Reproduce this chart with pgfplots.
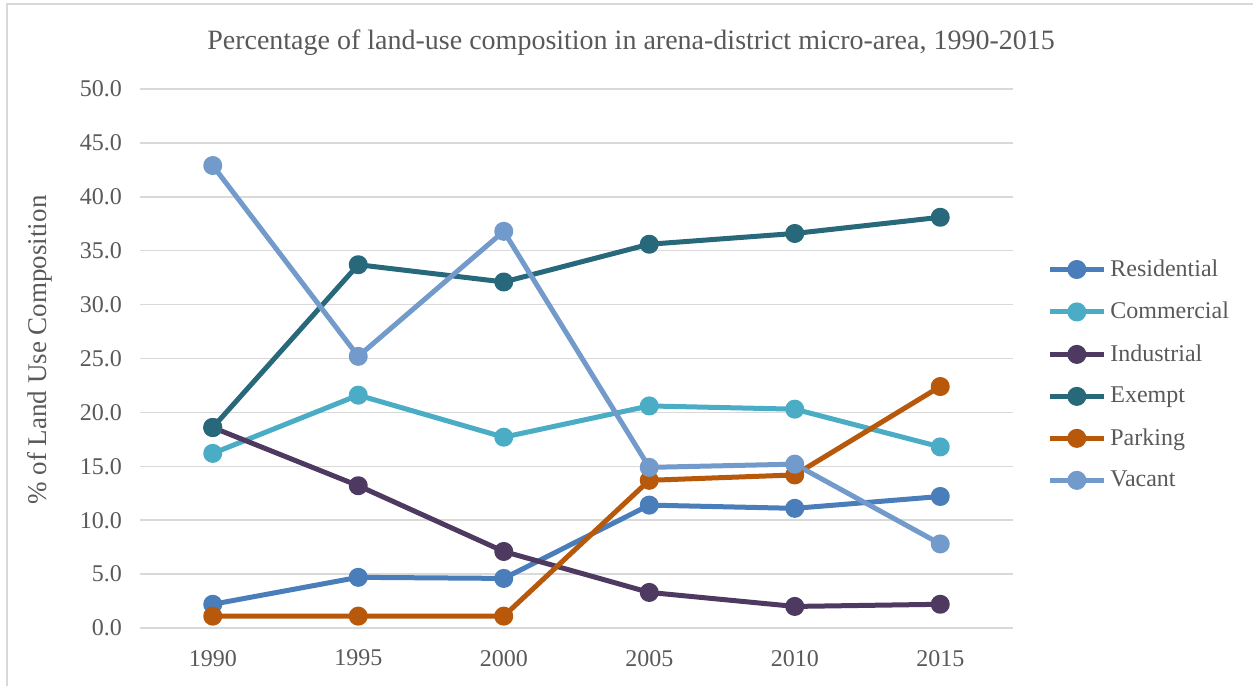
\documentclass[border=0pt]{standalone}
\usepackage{fontspec}
\setmainfont{Liberation Serif}
\usepackage{pgfplots}
\pgfplotsset{compat=1.18}

\definecolor{txtgray}{HTML}{595959}
\definecolor{gridgray}{HTML}{D9D9D9}
\definecolor{framegray}{HTML}{D9D9D9}
\definecolor{cRes}{HTML}{4A7EBB}
\definecolor{cCom}{HTML}{4BACC6}
\definecolor{cInd}{HTML}{4E3A60}
\definecolor{cExe}{HTML}{27687A}
\definecolor{cPar}{HTML}{B7580A}
\definecolor{cVac}{HTML}{729ACB}

\begin{document}
\begin{tikzpicture}
\useasboundingbox (0,0) rectangle (626.5pt,343pt);
% chart frame (left and top edges)
\draw[framegray, line width=1pt] (3.5pt,0pt) -- (3.5pt,340.8pt) -- (626.5pt,340.8pt);

\begin{axis}[
  at={(70pt,29pt)}, anchor=south west,
  scale only axis, width=436.5pt, height=269.5pt,
  xmin=-0.5, xmax=5.5, ymin=0, ymax=50,
  xtick={0,1,2,3,4,5},
  xticklabels={1990,1995,2000,2005,2010,2015},
  ytick={0,5,...,50},
  axis line style={draw=none},
  major tick length=0pt,
  ymajorgrids, grid style={gridgray, line width=0.75pt},
  tick label style={font=\fontsize{12}{14}\selectfont, text=txtgray},
  /pgf/number format/assume math mode=true,
  yticklabel={\pgfmathprintnumber[fixed, fixed zerofill, precision=1]{\tick}},
  yticklabel style={anchor=east, xshift=-5.5pt},
  xticklabel style={anchor=north, yshift=-7.5pt},
  every axis plot/.append style={line width=2.5pt, mark=*, mark size=3.5pt, line join=round},
  legend style={at={(1.032,0.470)}, anchor=west, draw=none, fill=none,
    font=\fontsize{12}{14}\selectfont, text=txtgray, row sep=7.4pt,
    /tikz/every even column/.append style={column sep=0pt}},
  legend cell align=left,
  legend image code/.code={%
    \draw[mark repeat=2, mark phase=2, #1] plot coordinates {(0pt,0pt) (13.5pt,0pt) (27pt,0pt)};},
]
\addplot[cRes, mark options={fill=cRes, draw=cRes}] coordinates {(0,2.2) (1,4.7) (2,4.6) (3,11.4) (4,11.1) (5,12.2)};
\addlegendentry{Residential}
\addplot[cCom, mark options={fill=cCom, draw=cCom}] coordinates {(0,16.2) (1,21.6) (2,17.7) (3,20.6) (4,20.3) (5,16.8)};
\addlegendentry{Commercial}
\addplot[cInd, mark options={fill=cInd, draw=cInd}] coordinates {(0,18.6) (1,13.2) (2,7.1) (3,3.3) (4,2.0) (5,2.2)};
\addlegendentry{Industrial}
\addplot[cExe, mark options={fill=cExe, draw=cExe}] coordinates {(0,18.6) (1,33.7) (2,32.1) (3,35.6) (4,36.6) (5,38.1)};
\addlegendentry{Exempt}
\addplot[cPar, mark options={fill=cPar, draw=cPar}] coordinates {(0,1.1) (1,1.1) (2,1.1) (3,13.7) (4,14.2) (5,22.4)};
\addlegendentry{Parking}
\addplot[cVac, mark options={fill=cVac, draw=cVac}] coordinates {(0,42.9) (1,25.2) (2,36.8) (3,14.9) (4,15.2) (5,7.8)};
\addlegendentry{Vacant}
\end{axis}

\node[text=txtgray, font=\fontsize{14}{16}\selectfont] at (315.5pt,321.5pt)
  {Percentage of land-use composition in arena-district micro-area, 1990-2015};
\node[text=txtgray, font=\fontsize{13.5}{16}\selectfont, rotate=90] at (20pt,168pt)
  {\% of Land Use Composition};
\end{tikzpicture}
\end{document}
